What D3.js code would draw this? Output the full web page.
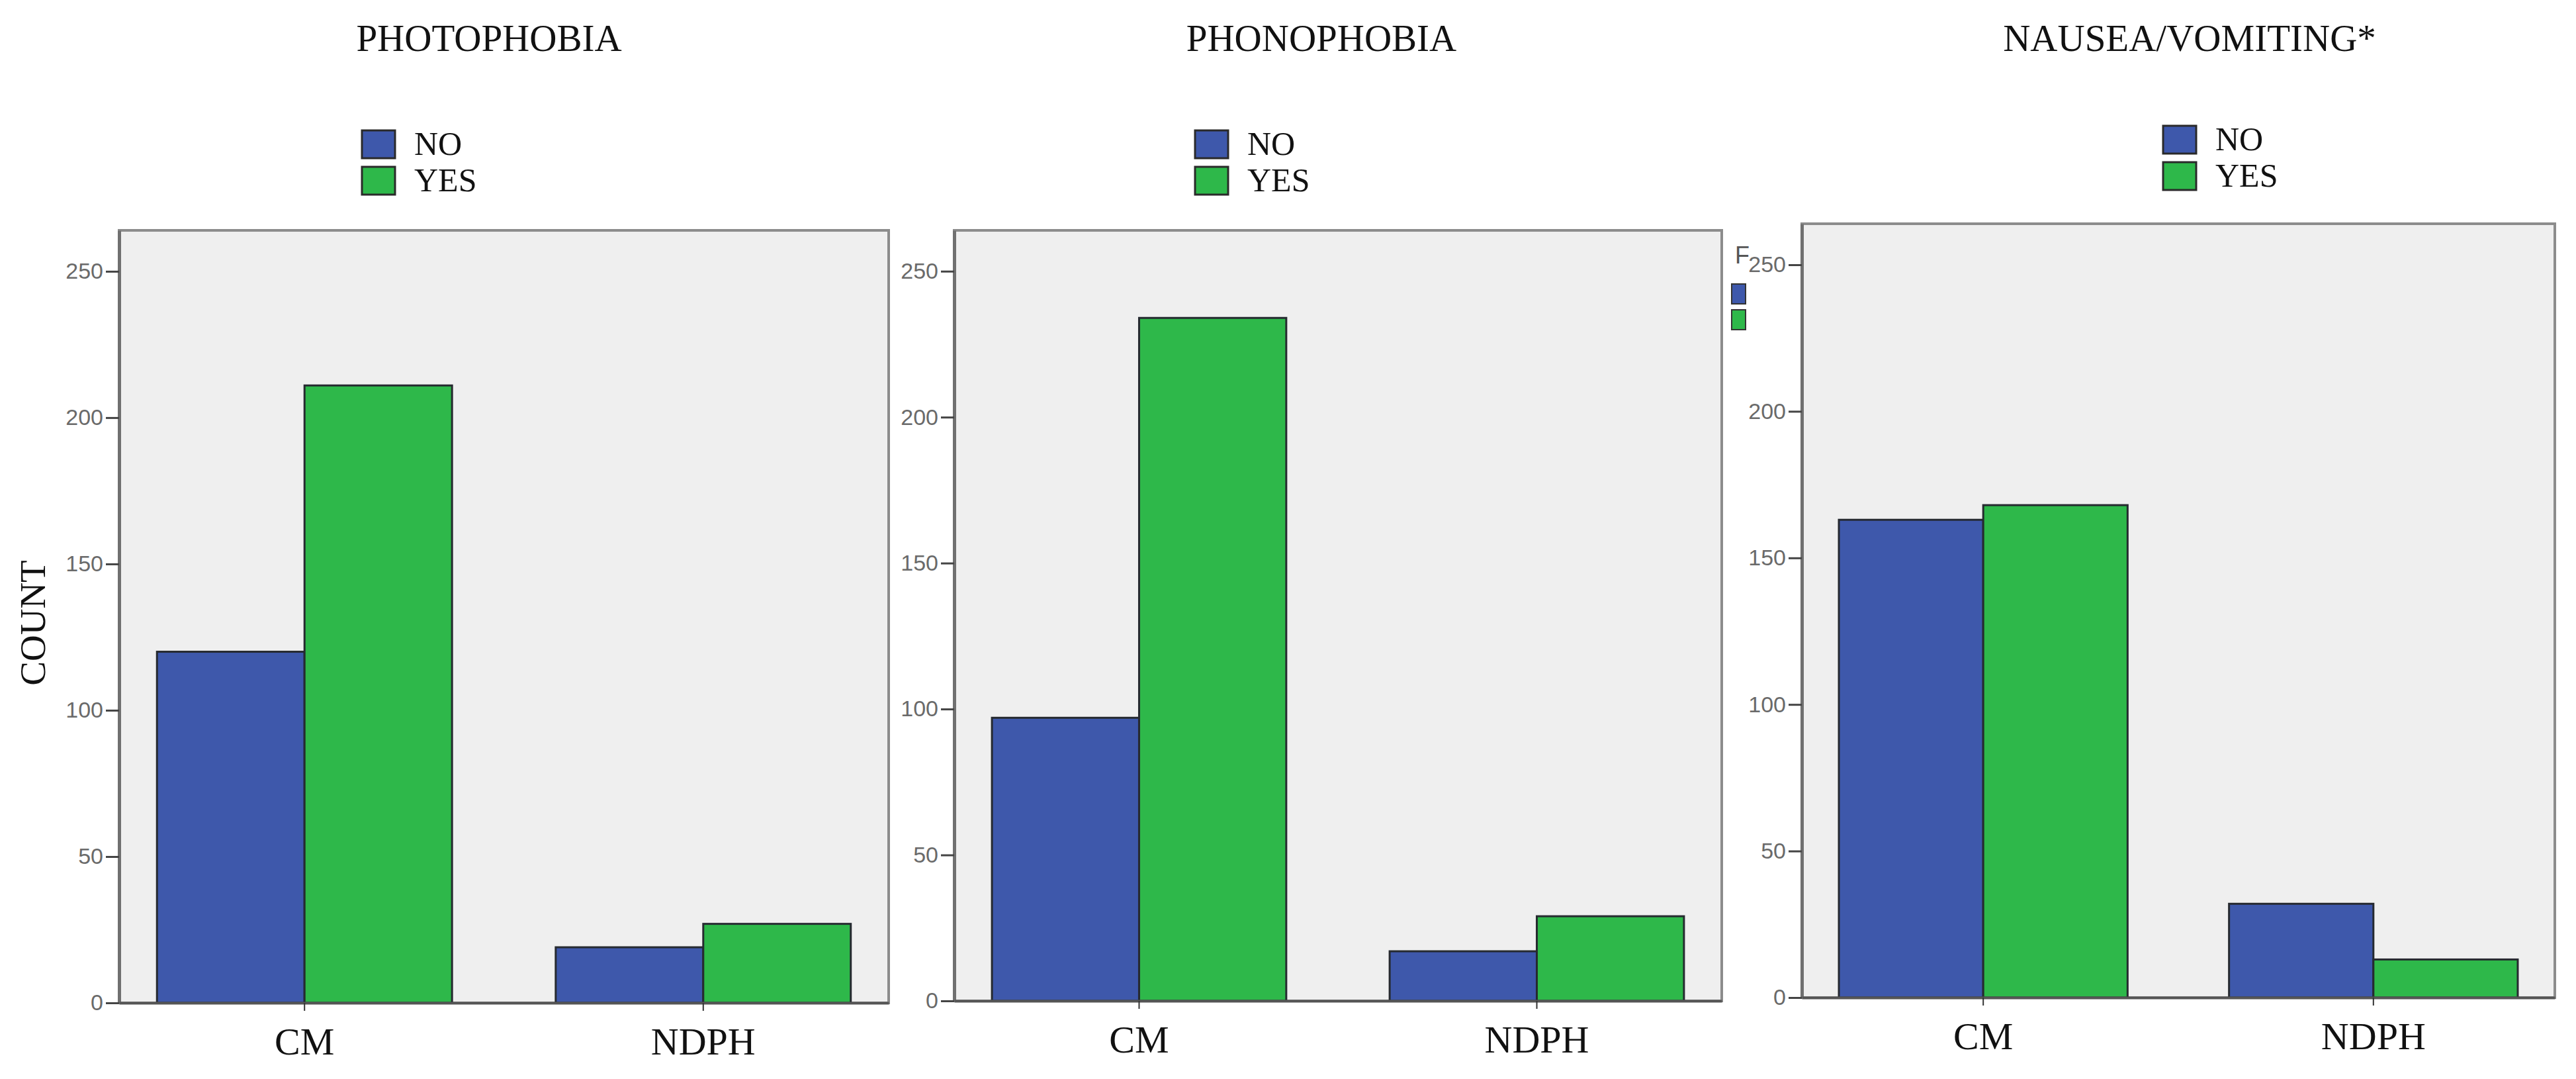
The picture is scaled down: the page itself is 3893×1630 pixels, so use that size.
<!DOCTYPE html>
<html>
<head>
<meta charset="utf-8">
<script src="https://cdn.jsdelivr.net/npm/d3@7"></script>
<style>
body{margin:0;background:#fff;}
</style>
</head>
<body>
<div id="viz"></div>
<script>
var categories = ["CM","NDPH"];
var series = ["NO","YES"];
var titles = ["PHOTOPHOBIA","PHONOPHOBIA","NAUSEA/VOMITING*"];
var photophobiaNo = [120,19];
var photophobiaYes = [211,27];
var phonophobiaNo = [97,17];
var phonophobiaYes = [234,29];
var nauseaNo = [163,32];
var nauseaYes = [168,13];
var yTicks = [0,50,100,150,200,250];
var yAxisLabel = "COUNT";

var Viz = (function(){
	var svgContainer;
	var width = 3893, height = 1630;
	var yMax = 264;
	var colors = {"NO":"#3e58ab","YES":"#2eb84a"};
	var panelBg = "#efefef", frameColor = "#8c8c8c", axisColor = "#707070", barStroke = "#262a30";
	var serif = "'Liberation Serif','Times New Roman',serif";
	var sans = "'Liberation Sans',Arial,sans-serif";

	// frame of each panel plus where its title and legend sit
	var boxes = [
		{left:180, right:1343, top:348, bottom:1515, titleX:739, legendX:547, legendY:197},
		{left:1442, right:2602, top:348, bottom:1512, titleX:1997, legendX:1806, legendY:197},
		{left:2723, right:3861, top:338, bottom:1507, titleX:3309, legendX:3269, legendY:190}
	];

	var drawPanel = function(box, title, noVals, yesVals){
		var g = svgContainer.append("g");

		var rows = categories.map(function(c,i){
			return {cat:c, values:[{key:series[0], val:noVals[i]},{key:series[1], val:yesVals[i]}]};
		});

		var x = d3.scaleBand()
				  .domain(categories)
				  .range([box.left, box.right])
				  .paddingInner(0.26)
				  .paddingOuter(0.095);
		var xSeries = d3.scaleBand()
				  .domain(series)
				  .range([0, x.bandwidth()])
				  .padding(0);
		var y = d3.scaleLinear()
				  .domain([0, yMax])
				  .range([box.bottom, box.top]);

		g.append("rect")
		 .attr("x",box.left)
		 .attr("y",box.top)
		 .attr("width",box.right-box.left)
		 .attr("height",box.bottom-box.top)
		 .style("fill",panelBg)
		 .style("stroke",frameColor)
		 .style("stroke-width",4);

		var groups = g.selectAll(".cat")
					  .data(rows)
					  .enter()
					  .append("g")
					  .attr("class","cat")
					  .attr("transform",function(d){ return "translate(" + x(d.cat) + ",0)"; });
		groups.selectAll("rect")
			  .data(function(d){ return d.values; })
			  .enter()
			  .append("rect")
			  .attr("x",function(d){ return xSeries(d.key); })
			  .attr("y",function(d){ return y(d.val); })
			  .attr("width",xSeries.bandwidth())
			  .attr("height",function(d){ return y(0)-y(d.val); })
			  .style("fill",function(d){ return colors[d.key]; })
			  .style("stroke",barStroke)
			  .style("stroke-width",3);

		var yAxis = g.append("g")
					 .attr("transform","translate(" + box.left + ",0)")
					 .call(d3.axisLeft(y).tickValues(yTicks).tickSize(20).tickSizeOuter(0).tickPadding(4));
		yAxis.select(".domain").style("stroke",axisColor).style("stroke-width",5);
		yAxis.selectAll(".tick line").style("stroke","#444").style("stroke-width",3);
		yAxis.selectAll("text")
			 .style("font-family",sans)
			 .style("font-size","34px")
			 .style("fill","#6a6a6a");

		var xAxis = g.append("g")
					 .attr("transform","translate(0," + box.bottom + ")")
					 .call(d3.axisBottom(x).tickSize(12).tickSizeOuter(0).tickPadding(25));
		xAxis.select(".domain").style("stroke","#555").style("stroke-width",4);
		xAxis.selectAll(".tick line").style("stroke","#333").style("stroke-width",2);
		xAxis.selectAll("text")
			 .style("font-family",serif)
			 .style("font-size","58px")
			 .style("fill","#111");

		g.append("text")
		 .attr("x",box.titleX)
		 .attr("y",77)
		 .attr("text-anchor","middle")
		 .style("font-family",serif)
		 .style("font-size","57px")
		 .style("fill","#111")
		 .text(title);

		var legend = g.selectAll(".legendItem")
					  .data(series)
					  .enter()
					  .append("g")
					  .attr("class","legendItem")
					  .attr("transform",function(d,i){ return "translate(" + box.legendX + "," + (box.legendY + i*55) + ")"; });
		legend.append("rect")
			  .attr("width",50)
			  .attr("height",42)
			  .style("fill",function(d){ return colors[d]; })
			  .style("stroke","#2a2a2a")
			  .style("stroke-width",3);
		legend.append("text")
			  .attr("x",79)
			  .attr("y",37)
			  .style("font-family",serif)
			  .style("font-size","50px")
			  .style("fill","#111")
			  .text(function(d){ return d; });
	}

	// clipped legend fragment left over between panel 2 and 3
	var drawFragment = function(){
		var g = svgContainer.append("g");
		g.append("text")
		 .attr("x",2622)
		 .attr("y",398)
		 .style("font-family",sans)
		 .style("font-size","36px")
		 .style("fill","#555")
		 .text("F");
		g.selectAll(".frag")
		 .data(series)
		 .enter()
		 .append("rect")
		 .attr("class","frag")
		 .attr("x",2617)
		 .attr("y",function(d,i){ return 429 + i*39; })
		 .attr("width",21)
		 .attr("height",30)
		 .style("fill",function(d){ return colors[d]; })
		 .style("stroke","#333")
		 .style("stroke-width",2);
	}

	var drawYLabel = function(){
		svgContainer.append("text")
					.attr("transform","translate(68,941) rotate(-90)")
					.attr("text-anchor","middle")
					.style("font-family",serif)
					.style("font-size","55px")
					.style("fill","#111")
					.text(yAxisLabel);
	}

	var draw = function(){
		svgContainer = d3.select("#viz").append("svg")
						 .attr("width",width)
						 .attr("height",height);
		drawPanel(boxes[0], titles[0], photophobiaNo, photophobiaYes);
		drawPanel(boxes[1], titles[1], phonophobiaNo, phonophobiaYes);
		drawPanel(boxes[2], titles[2], nauseaNo, nauseaYes);
		drawFragment();
		drawYLabel();
	}

	return {
		draw : draw
	}
})()

Viz.draw();
</script>
</body>
</html>
